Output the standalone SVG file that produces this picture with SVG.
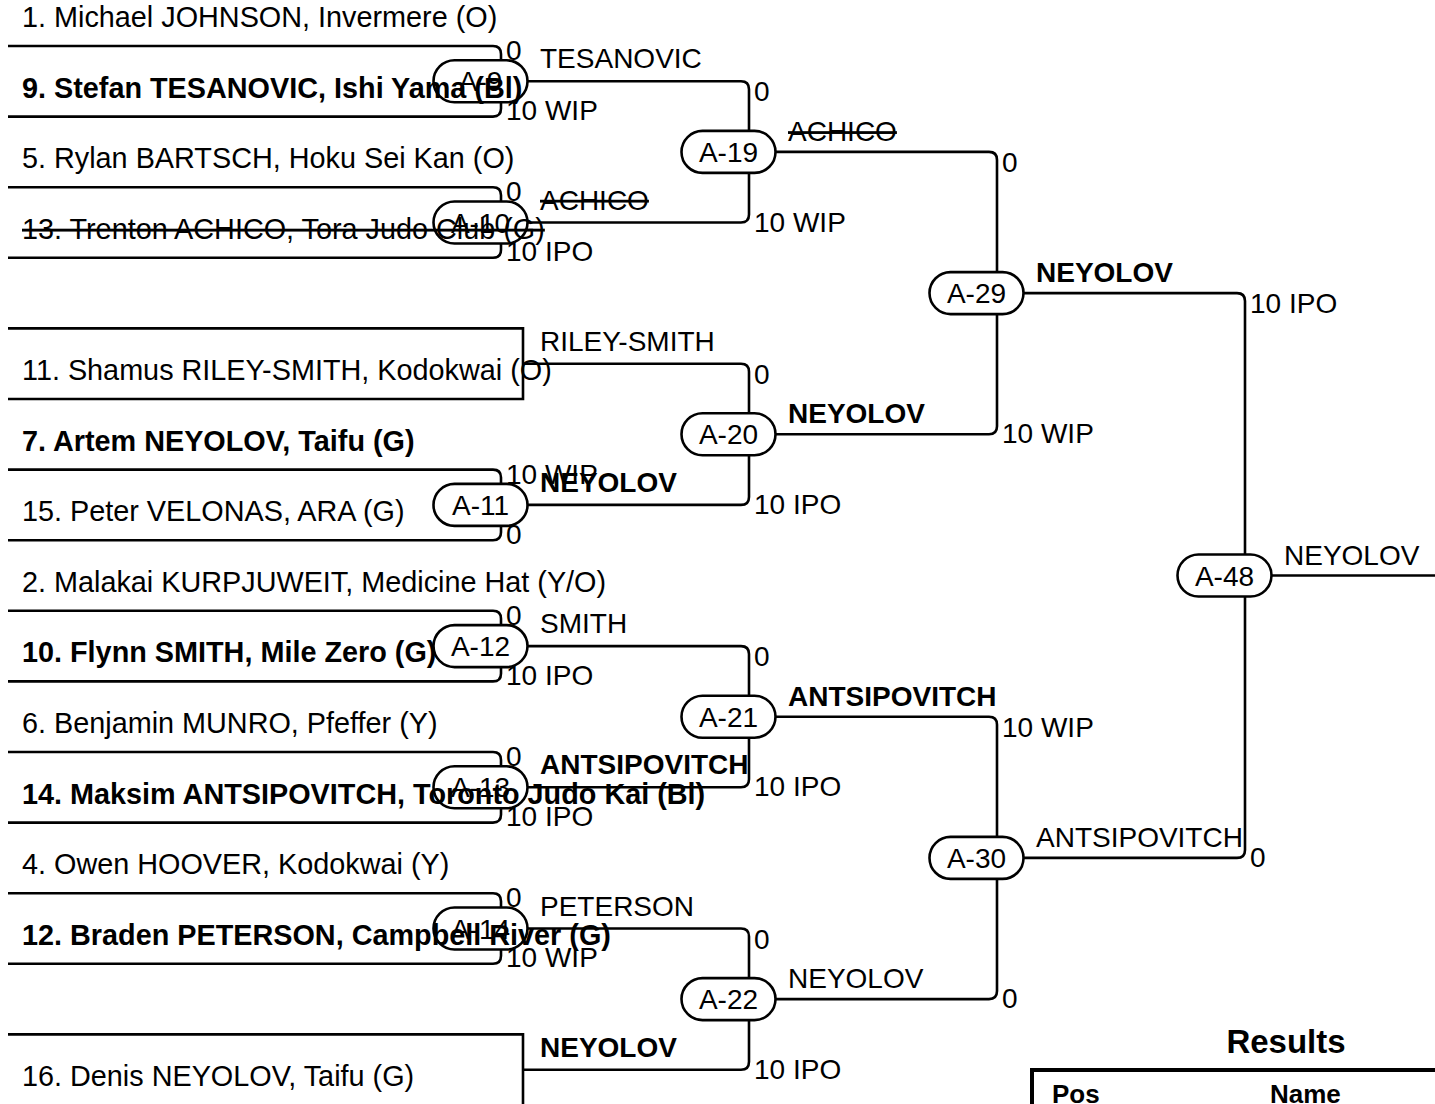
<svg xmlns="http://www.w3.org/2000/svg" width="1435" height="1104" viewBox="0 0 1435 1104">
<style>
text{font-family:"Liberation Sans",Arial,sans-serif;font-size:28px;fill:#000}
.n{font-size:28.8px}
.b{font-weight:bold}
.s{text-decoration:line-through}
.c{fill:none;stroke:#000;stroke-width:2.6}
.pill{fill:#fff;stroke:#000;stroke-width:2.6}
.pl{text-anchor:middle}
</style>
<rect width="1435" height="1104" fill="#fff"/>
<g id="connectors" class="c">
<path d="M8,46 H493 Q501,46 501,54 V108.6 Q501,116.6 493,116.6 H8"/>
<path d="M8,187.2 H493 Q501,187.2 501,195.2 V249.8 Q501,257.8 493,257.8 H8"/>
<path d="M8,328.4 H523 V399 H8"/>
<path d="M8,469.6 H493 Q501,469.6 501,477.6 V532.2 Q501,540.2 493,540.2 H8"/>
<path d="M8,610.8 H493 Q501,610.8 501,618.8 V673.4 Q501,681.4 493,681.4 H8"/>
<path d="M8,752 H493 Q501,752 501,760 V814.6 Q501,822.6 493,822.6 H8"/>
<path d="M8,893.2 H493 Q501,893.2 501,901.2 V955.8 Q501,963.8 493,963.8 H8"/>
<path d="M8,1034.4 H523 V1108"/>
<path d="M480.5,81.3 H741 Q749,81.3 749,89.3 V214.5 Q749,222.5 741,222.5 H480.5"/>
<path d="M523,363.7 H741 Q749,363.7 749,371.7 V496.9 Q749,504.9 741,504.9 H480.5"/>
<path d="M480.5,646.1 H741 Q749,646.1 749,654.1 V779.3 Q749,787.3 741,787.3 H480.5"/>
<path d="M480.5,928.5 H741 Q749,928.5 749,936.5 V1061.7 Q749,1069.7 741,1069.7 H523"/>
<path d="M728.5,151.9 H989 Q997,151.9 997,159.9 V426.3 Q997,434.3 989,434.3 H728.5"/>
<path d="M728.5,716.7 H989 Q997,716.7 997,724.7 V991.1 Q997,999.1 989,999.1 H728.5"/>
<path d="M976.5,293.1 H1237 Q1245,293.1 1245,301.1 V849.9 Q1245,857.9 1237,857.9 H976.5"/>
<path d="M1224.5,575.5 H1436"/>
</g>
<g id="A-9"><rect class="pill" x="433.5" y="60.3" width="94" height="42" rx="21"/><text class="pl" x="480.5" y="91.3">A-9</text></g>
<g id="A-10"><rect class="pill" x="433.5" y="201.5" width="94" height="42" rx="21"/><text class="pl" x="480.5" y="232.5">A-10</text></g>
<g id="A-11"><rect class="pill" x="433.5" y="483.9" width="94" height="42" rx="21"/><text class="pl" x="480.5" y="514.9">A-11</text></g>
<g id="A-12"><rect class="pill" x="433.5" y="625.1" width="94" height="42" rx="21"/><text class="pl" x="480.5" y="656.1">A-12</text></g>
<g id="A-13"><rect class="pill" x="433.5" y="766.3" width="94" height="42" rx="21"/><text class="pl" x="480.5" y="797.3">A-13</text></g>
<g id="A-14"><rect class="pill" x="433.5" y="907.5" width="94" height="42" rx="21"/><text class="pl" x="480.5" y="938.5">A-14</text></g>
<g id="A-19"><rect class="pill" x="681.5" y="130.9" width="94" height="42" rx="21"/><text class="pl" x="728.5" y="161.9">A-19</text></g>
<g id="A-20"><rect class="pill" x="681.5" y="413.3" width="94" height="42" rx="21"/><text class="pl" x="728.5" y="444.3">A-20</text></g>
<g id="A-21"><rect class="pill" x="681.5" y="695.7" width="94" height="42" rx="21"/><text class="pl" x="728.5" y="726.7">A-21</text></g>
<g id="A-22"><rect class="pill" x="681.5" y="978.1" width="94" height="42" rx="21"/><text class="pl" x="728.5" y="1009.1">A-22</text></g>
<g id="A-29"><rect class="pill" x="929.5" y="272.1" width="94" height="42" rx="21"/><text class="pl" x="976.5" y="303.1">A-29</text></g>
<g id="A-30"><rect class="pill" x="929.5" y="836.9" width="94" height="42" rx="21"/><text class="pl" x="976.5" y="867.9">A-30</text></g>
<g id="A-48"><rect class="pill" x="1177.5" y="554.5" width="94" height="42" rx="21"/><text class="pl" x="1224.5" y="585.5">A-48</text></g>
<g id="competitors">
<text id="p1" class="n" x="22" y="27">1. Michael JOHNSON, Invermere (O)</text>
<text id="p9" class="n b" x="22" y="97.6">9. Stefan TESANOVIC, Ishi Yama (Bl)</text>
<text id="p5" class="n" x="22" y="168.2">5. Rylan BARTSCH, Hoku Sei Kan (O)</text>
<text id="p13" class="n s" x="22" y="238.8">13. Trenton ACHICO, Tora Judo Club (G)</text>
<text id="p11" class="n" x="22" y="380">11. Shamus RILEY-SMITH, Kodokwai (O)</text>
<text id="p7" class="n b" x="22" y="450.6">7. Artem NEYOLOV, Taifu (G)</text>
<text id="p15" class="n" x="22" y="521.2">15. Peter VELONAS, ARA (G)</text>
<text id="p2" class="n" x="22" y="591.8">2. Malakai KURPJUWEIT, Medicine Hat (Y/O)</text>
<text id="p10" class="n b" x="22" y="662.4">10. Flynn SMITH, Mile Zero (G)</text>
<text id="p6" class="n" x="22" y="733">6. Benjamin MUNRO, Pfeffer (Y)</text>
<text id="p14" class="n b" x="22" y="803.6">14. Maksim ANTSIPOVITCH, Toronto Judo Kai (Bl)</text>
<text id="p4" class="n" x="22" y="874.2">4. Owen HOOVER, Kodokwai (Y)</text>
<text id="p12" class="n b" x="22" y="944.8">12. Braden PETERSON, Campbell River (G)</text>
<text id="p16" class="n" x="22" y="1086">16. Denis NEYOLOV, Taifu (G)</text>
</g>
<g id="scores">
<text x="506" y="60">0</text><text x="506" y="120.1">10 WIP</text>
<text x="506" y="201.2">0</text><text x="506" y="261.3">10 IPO</text>
<text x="506" y="483.6">10 WIP</text><text x="506" y="543.7">0</text>
<text x="506" y="624.8">0</text><text x="506" y="684.9">10 IPO</text>
<text x="506" y="766">0</text><text x="506" y="826.1">10 IPO</text>
<text x="506" y="907.2">0</text><text x="506" y="967.3">10 WIP</text>
<text x="754" y="101.3">0</text><text x="754" y="231.5">10 WIP</text>
<text x="754" y="383.7">0</text><text x="754" y="513.9">10 IPO</text>
<text x="754" y="666.1">0</text><text x="754" y="796.3">10 IPO</text>
<text x="754" y="948.5">0</text><text x="754" y="1078.7">10 IPO</text>
<text x="1002" y="171.9">0</text><text x="1002" y="443.3">10 WIP</text>
<text x="1002" y="736.7">10 WIP</text><text x="1002" y="1008.1">0</text>
<text x="1250" y="313.1">10 IPO</text><text x="1250" y="866.9">0</text>
</g>
<g id="winners">
<text x="540" y="68.3">TESANOVIC</text>
<text class="s" x="540" y="209.5">ACHICO</text>
<text x="540" y="350.7">RILEY-SMITH</text>
<text class="b" x="540" y="491.9">NEYOLOV</text>
<text x="540" y="633.1">SMITH</text>
<text class="b" x="540" y="774.3">ANTSIPOVITCH</text>
<text x="540" y="915.5">PETERSON</text>
<text class="b" x="540" y="1056.7">NEYOLOV</text>
<text class="s" x="788" y="140.9">ACHICO</text>
<text class="b" x="788" y="423.3">NEYOLOV</text>
<text class="b" x="788" y="705.7">ANTSIPOVITCH</text>
<text x="788" y="988.1">NEYOLOV</text>
<text class="b" x="1036" y="282.1">NEYOLOV</text>
<text x="1036" y="846.9">ANTSIPOVITCH</text>
<text x="1284" y="564.5">NEYOLOV</text>
</g>
<g id="results">
<text class="b pl" x="1286" y="1053" style="font-size:33px">Results</text>
<path d="M1032,1108 V1070 H1437" fill="none" stroke="#000" stroke-width="4"/>
<text class="b" x="1052" y="1103" style="font-size:26px">Pos</text>
<text class="b" x="1270" y="1103" style="font-size:26px">Name</text>
</g>
</svg>
